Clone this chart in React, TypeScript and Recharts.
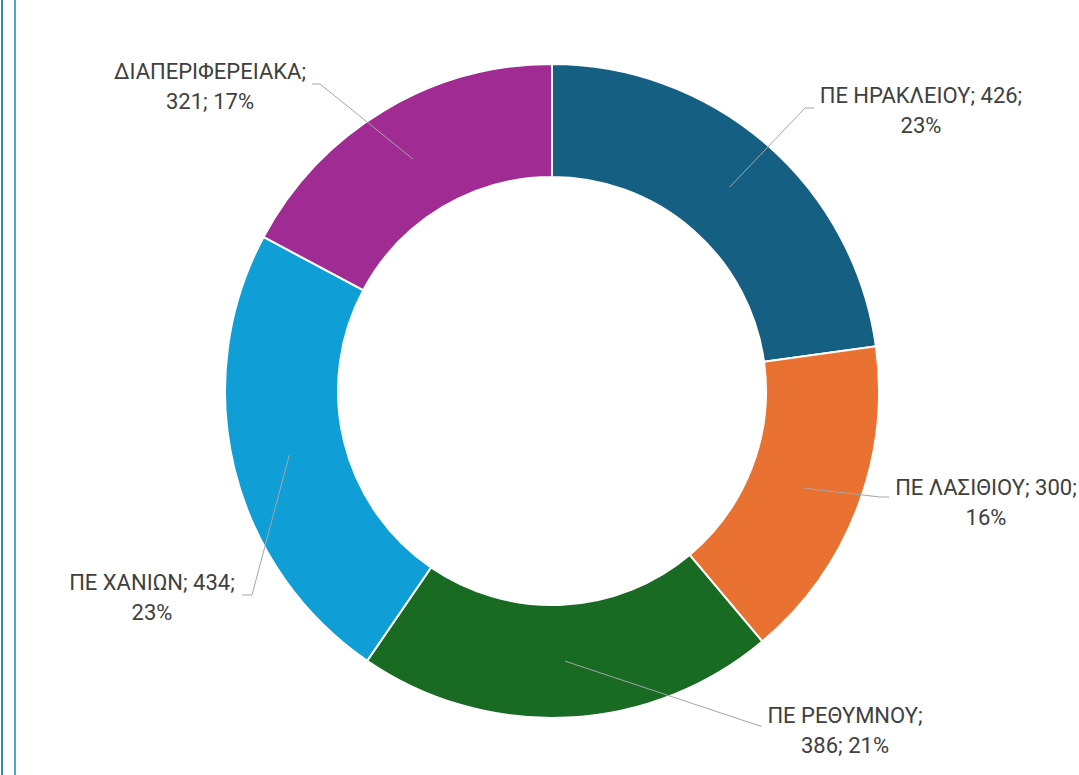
import { PieChart, Pie, Cell } from 'recharts'

const regions = ['ΠΕ ΗΡΑΚΛΕΙΟΥ', 'ΠΕ ΛΑΣΙΘΙΟΥ', 'ΠΕ ΡΕΘΥΜΝΟΥ', 'ΠΕ ΧΑΝΙΩΝ', 'ΔΙΑΠΕΡΙΦΕΡΕΙΑΚΑ']
const counts = [426, 300, 386, 434, 321]
const colors = ['#156082', '#E97132', '#196B24', '#0F9ED5', '#A02B93']

// how each label is broken into two lines, as in the original
const labelLines = [
  ['ΠΕ ΗΡΑΚΛΕΙΟΥ; 426;', '23%'],
  ['ΠΕ ΛΑΣΙΘΙΟΥ; 300;', '16%'],
  ['ΠΕ ΡΕΘΥΜΝΟΥ;', '386; 21%'],
  ['ΠΕ ΧΑΝΙΩΝ; 434;', '23%'],
  ['ΔΙΑΠΕΡΙΦΕΡΕΙΑΚΑ;', '321; 17%'],
]

// label block placement relative to the pie centre (text centre, elbow of leader, horizontal end)
const labelLayout = [
  { tx: 369, ty: -281, ex: 253, ey: -283, hx: 262 },
  { tx: 434, ty: 111, ex: 328, ey: 106, hx: 337 },
  { tx: 293, ty: 339, ex: 208, ey: 335, hx: 210 },
  { tx: -400, ty: 206, ex: -300, ey: 204, hx: -310 },
  { tx: -342, ty: -305, ex: -232, ey: -307, hx: -240 },
]

const data = regions.map((name, i) => ({ name, value: counts[i] }))

const RAD = Math.PI / 180

const renderLabel = (props: any) => {
  const { cx, cy, midAngle, innerRadius, outerRadius, index } = props
  const r = (innerRadius + outerRadius) / 2
  const sx = cx + r * Math.cos(-midAngle * RAD)
  const sy = cy + r * Math.sin(-midAngle * RAD)
  const l = labelLayout[index]
  const [a, b] = labelLines[index]
  return (
    <g>
      <polyline
        points={`${sx},${sy} ${cx + l.ex},${cy + l.ey} ${cx + l.hx},${cy + l.ey}`}
        fill="none"
        stroke="#a6a6a6"
        strokeWidth={1}
      />
      <text
        x={cx + l.tx}
        y={cy + l.ty}
        textAnchor="middle"
        fill="#404040"
        fontSize={22}
        fontFamily="Roboto, 'Noto Sans', sans-serif"
      >
        <tspan x={cx + l.tx} dy={-7}>{a}</tspan>
        <tspan x={cx + l.tx} dy={30}>{b}</tspan>
      </text>
    </g>
  )
}

export default function App() {
  return (
    <div style={{ position: 'absolute', left: 0, top: 0, width: 1079, height: 775, background: '#fff' }}>
      <div style={{ position: 'absolute', left: 1, top: 0, width: 2, height: 775, background: '#2b8ea3' }} />
      <div style={{ position: 'absolute', left: 14, top: 0, width: 2, height: 775, background: '#3eafc6' }} />
      <PieChart width={1079} height={775} margin={{ top: 0, right: 0, bottom: 0, left: 0 }}>
        <Pie
          data={data}
          dataKey="value"
          nameKey="name"
          cx={552}
          cy={391}
          innerRadius={214}
          outerRadius={327}
          startAngle={90}
          endAngle={-270}
          stroke="#ffffff"
          strokeWidth={2}
          label={renderLabel}
          labelLine={false}
          isAnimationActive={false}
        >
          {data.map((d, i) => (
            <Cell key={d.name} fill={colors[i]} />
          ))}
        </Pie>
      </PieChart>
    </div>
  )
}
